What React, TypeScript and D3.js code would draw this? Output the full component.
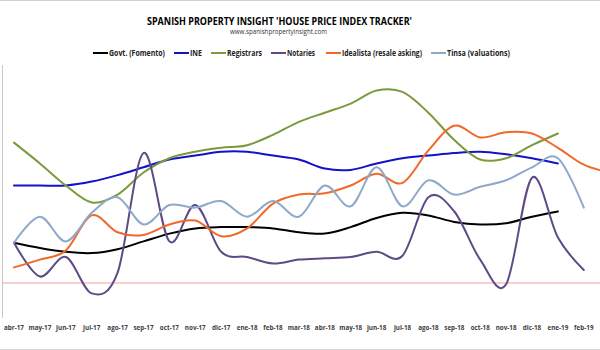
import * as d3 from "d3";

const months = [
  "abr-17", "may-17", "jun-17", "jul-17", "ago-17", "sep-17", "oct-17", "nov-17", "dic-17",
  "ene-18", "feb-18", "mar-18", "abr-18", "may-18", "jun-18", "jul-18", "ago-18", "sep-18",
  "oct-18", "nov-18", "dic-18", "ene-19", "feb-19", "mar-19",
];
// the picture is cropped: mar-19 is only there so Idealista runs off the right edge
const tickLabels = months.slice(0, 23);

// annual % change (null = no data)
const govt = [3.1, 2.7, 2.4, 2.3, 2.6, 3.2, 3.8, 4.2, 4.3, 4.3, 4.2, 3.9, 3.8, 4.3, 5.0, 5.4, 5.2, 4.7, 4.5, 4.6, 5.1, 5.5, null, null];
const ine = [7.5, 7.5, 7.5, 7.8, 8.3, 8.9, 9.5, 9.8, 10.1, 10.1, 9.8, 9.5, 8.8, 8.7, 9.2, 9.6, 9.8, 10.0, 10.1, 9.9, 9.6, 9.2, null, null];
const registrars = [10.8, 9.2, 7.5, 6.2, 6.8, 8.5, 9.6, 10.1, 10.4, 10.6, 11.4, 12.4, 13.1, 13.8, 14.8, 14.7, 13.1, 11.0, 9.5, 9.6, 10.6, 11.5, null, null];
const notaries = [3.1, 0.5, 2.0, -0.8, 0.8, 10.0, 3.2, 6.0, 2.4, 2.0, 1.5, 1.8, 1.9, 2.0, 2.4, 2.1, 6.6, 5.5, 1.8, -0.1, 8.1, 3.5, 1.0, null];
const idealista = [1.2, 1.8, 2.5, 5.2, 3.9, 3.7, 4.5, 4.8, 3.6, 4.2, 6.1, 6.8, 6.9, 7.5, 8.4, 7.7, 10.2, 12.1, 11.2, 11.6, 11.5, 10.4, 9.1, 8.5];
const tinsa = [3.1, 5.1, 3.2, 5.4, 6.6, 4.5, 6.0, 5.8, 6.3, 5.1, 6.3, 5.1, 7.5, 5.9, 8.9, 5.9, 7.9, 6.8, 7.4, 7.9, 8.9, 9.6, 5.8, null];

const seriesNames = ["Govt. (Fomento)", "INE", "Registrars", "Notaries", "Idealista (resale asking)", "Tinsa (valuations)"];
const seriesData = [govt, ine, registrars, notaries, idealista, tinsa];
const seriesColors = ["#000000", "#1212c8", "#7b9a3e", "#5e4a86", "#f0692a", "#8ea9c9"];

const W = 600;
const H = 350;
const FONT = "'Open Sans', sans-serif";

// legend placement (line start x, text width)
const legendX = [93, 174, 211, 271, 326, 431];
const legendW = [56, 12, 35, 28, 80, 63];

export default function App() {
  const x = d3.scalePoint<string>().domain(months).range([14, 14 + 25.9 * (months.length - 1)]);
  const y = d3.scaleLinear().domain([0, 20]).range([283, 23]);

  const line = d3
    .line<number | null>()
    .defined(d => d !== null)
    .x((_, i) => x(months[i]) ?? 0)
    .y(d => y(d as number))
    .curve(d3.curveCardinal.tension(0));

  return (
    <div style={{ position: "absolute", left: 0, top: 0 }}>
      <svg width={W} height={H} style={{ display: "block", background: "#fff" }}>
        <defs>
          <clipPath id="plot">
            <rect x={2} y={60} width={W - 2} height={262} />
          </clipPath>
        </defs>
        <line x1={0} x2={W} y1={0.5} y2={0.5} stroke="#d0d0d0" />
        <line x1={0} x2={W} y1={349.5} y2={349.5} stroke="#d8d8d8" />

        <text x={279.5} y={25} textAnchor="middle" fontFamily={FONT} fontWeight={700} fontSize={11}
          textLength={265} lengthAdjust="spacingAndGlyphs" fill="#000">
          SPANISH PROPERTY INSIGHT 'HOUSE PRICE INDEX TRACKER'
        </text>
        <text x={278.5} y={34} textAnchor="middle" fontFamily={FONT} fontSize={6.5}
          textLength={97} lengthAdjust="spacingAndGlyphs" fill="#333">
          www.spanishpropertyinsight.com
        </text>

        {seriesNames.map((name, i) => (
          <g key={name}>
            <line x1={legendX[i]} x2={legendX[i] + 15} y1={53} y2={53} stroke={seriesColors[i]} strokeWidth={2} />
            <text x={legendX[i] + 16} y={56} fontFamily={FONT} fontWeight={700} fontSize={8}
              textLength={legendW[i]} lengthAdjust="spacingAndGlyphs" fill="#222">
              {name}
            </text>
          </g>
        ))}

        <line x1={2.5} x2={2.5} y1={65} y2={318} stroke="#c8c8c8" />
        <line x1={2} x2={W} y1={y(0)} y2={y(0)} stroke="#f2a0a0" strokeWidth={1} />

        <g clipPath="url(#plot)">
          {seriesData.map((data, i) => (
            <path key={seriesNames[i]} d={line(data) ?? ""} fill="none" stroke={seriesColors[i]}
              strokeWidth={2} strokeLinejoin="round" strokeLinecap="round" />
          ))}
        </g>

        {tickLabels.map(m => (
          <text key={m} x={x(m)} y={330} textAnchor="middle" fontFamily={FONT} fontWeight={700}
            fontSize={6.3} fill="#404040">
            {m}
          </text>
        ))}
      </svg>
    </div>
  );
}
